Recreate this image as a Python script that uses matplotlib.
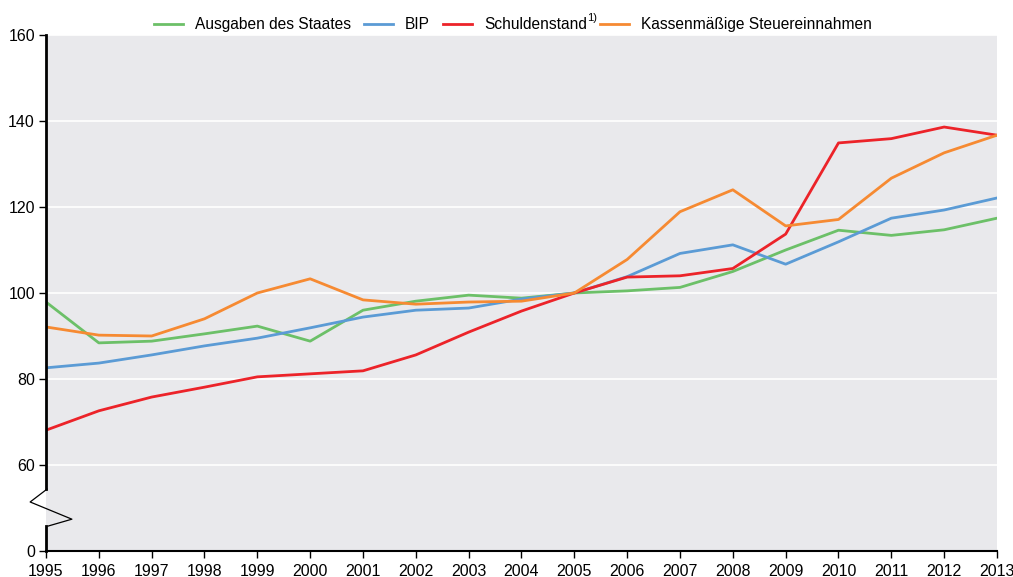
import matplotlib
matplotlib.use("Agg")
import matplotlib.pyplot as plt

years = list(range(1995, 2014))
ausgaben = [97.9, 88.4, 88.8, 90.5, 92.3, 88.8, 96.0, 98.1, 99.5, 98.8, 100.0,
            100.5, 101.3, 105.0, 110.0, 114.6, 113.4, 114.7, 117.4]
bip = [82.6, 83.7, 85.6, 87.7, 89.5, 91.9, 94.4, 96.0, 96.5, 98.6, 100.0,
       103.8, 109.2, 111.2, 106.7, 111.9, 117.4, 119.3, 122.1]
schulden = [68.1, 72.6, 75.8, 78.1, 80.5, 81.2, 81.9, 85.6, 90.9, 95.8, 100.0,
            103.7, 104.0, 105.7, 113.7, 134.9, 135.9, 138.6, 136.7]
steuer = [92.1, 90.2, 90.0, 94.0, 100.0, 103.3, 98.4, 97.4, 97.9, 98.1, 100.0,
          107.8, 118.9, 124.0, 115.6, 117.1, 126.7, 132.6, 136.7]

labels = ["Ausgaben des Staates", "BIP", "Schuldenstand", "Kassenmäßige Steuereinnahmen"]
footnote = "1)"
colors = ["#6cc068", "#5b9bd5", "#ec2329", "#f68a32"]

# y-axis: broken scale; position 40 represents 0
ytick_pos = [40, 60, 80, 100, 120, 140, 160]
ytick_lab = ["0", "60", "80", "100", "120", "140", "160"]

plt.rcParams['font.family'] = ['Liberation Sans', 'DejaVu Sans']
fig = plt.figure(figsize=(10.13, 5.77), dpi=100)
ax = fig.add_axes([46/1013, 26/577, 951/1013, 516/577])
ax.set_facecolor("#e9e9ec")

for vals, lab, col in zip([ausgaben, bip, schulden, steuer], labels, colors):
    ax.plot(years, vals, color=col, lw=2, label=lab, zorder=3)

ax.set_xlim(1995, 2013)
ax.set_ylim(40, 160)
ax.set_xticks(years)
ax.set_xticklabels([str(y) for y in years])
ax.set_yticks(ytick_pos)
ax.set_yticklabels(ytick_lab)
for yv in ytick_pos[1:]:
    ax.axhline(yv, color="white", lw=1.2, zorder=1)

for s in ["top", "right", "left"]:
    ax.spines[s].set_visible(False)
ax.spines["bottom"].set_linewidth(1.5)
ax.tick_params(axis="both", labelsize=11.5, length=5, width=1, direction="out", pad=3, colors="black")
ax.tick_params(axis="x", pad=4)

# left axis with break
gap_lo, gap_hi = 45.8, 54.4
ax.plot([1995, 1995], [40, gap_lo], color="black", lw=2, clip_on=False, zorder=5)
ax.plot([1995, 1995], [gap_hi, 160], color="black", lw=2, clip_on=False, zorder=5)
ax.plot([1995.02, 1994.7, 1995.49, 1995.04], [gap_hi, 51.4, 47.4, 45.8],
        color="black", lw=0.9, clip_on=False, zorder=6)

fs = 11.2
leg = fig.legend(loc="upper center", bbox_to_anchor=(513/1013, 1 - 3/577), ncol=4, frameon=False,
                 fontsize=fs, handlelength=1.86, columnspacing=0.84, handletextpad=0.77)
fig.canvas.draw()
r = fig.canvas.get_renderer()
t = leg.get_texts()[2]
bb = t.get_window_extent(r).transformed(fig.transFigure.inverted())
fig.text(bb.x1 + 0.0005, bb.y1 - 0.002, footnote, fontsize=8, ha="left", va="center")

fig.savefig("out.png", dpi=100)
